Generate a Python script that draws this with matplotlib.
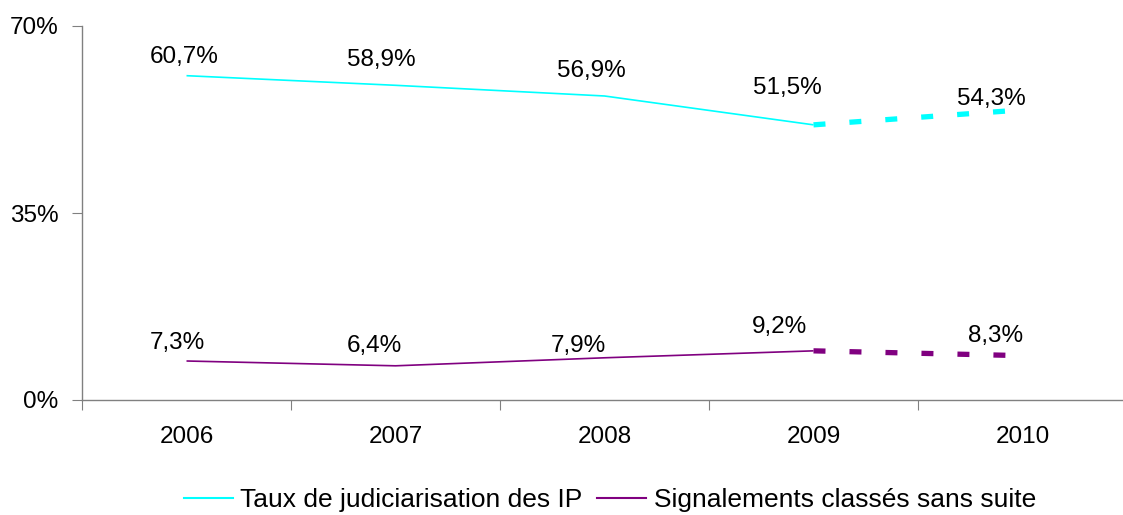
import matplotlib
matplotlib.use("Agg")
import matplotlib.pyplot as plt
from matplotlib.lines import Line2D

years = ["2006", "2007", "2008", "2009", "2010"]
taux = [60.7, 58.9, 56.9, 51.5, 54.3]
signal = [7.3, 6.4, 7.9, 9.2, 8.3]
series_names = ["Taux de judiciarisation des IP", "Signalements classés sans suite"]
yticks = [0, 35, 70]

cyan = "#00FFFF"
purple = "#800080"
# label offsets in pixels (style only)
off_taux = [(-2, 19), (-14, 25), (-13, 25), (-26, 37), (-31, 11)]
off_sig = [(-9, 18), (-21, 20), (-26, 12), (-34, 24), (-27, 20)]

plt.rcParams['font.family'] = ['Liberation Sans', 'DejaVu Sans']
FS = 17.5

fig = plt.figure(figsize=(11.23, 5.15), dpi=100)
ax = fig.add_axes([82/1123, 1-400/515, 1045/1123, 374/515])

x = list(range(len(years)))
for vals, col, offs in [(taux, cyan, off_taux), (signal, purple, off_sig)]:
    ax.plot(x[:4], vals[:4], color=col, lw=1.2, solid_capstyle='butt')
    ax.plot(x[3:], vals[3:], color=col, lw=3.8, dashes=(2.27, 4.55), dash_capstyle='butt')
    for xi, v, (dx, dy) in zip(x, vals, offs):
        ax.annotate(f"{v:.1f}%".replace('.', ','), (xi, v), xytext=(dx * 0.72, dy * 0.72),
                    textcoords='offset points', ha='center', va='center', fontsize=FS)

ax.set_xlim(-0.5, 4.5)
ax.set_ylim(0, 70)
ax.set_yticks(yticks)
ax.set_yticklabels([f"{t}%" for t in yticks], fontsize=FS)
ax.set_xticks([i + 0.5 for i in range(-1, 4)])
ax.set_xticklabels([])
ax.set_xticks(x, minor=True)
ax.set_xticklabels(years, minor=True, fontsize=FS)
ax.tick_params(axis='x', which='minor', length=0, pad=19)
ax.tick_params(axis='x', which='major', length=7, direction='out', color='#808080')
ax.tick_params(axis='y', length=7, direction='out', color='#808080', pad=10)
for s in ['top', 'right']:
    ax.spines[s].set_visible(False)
for s in ['left', 'bottom']:
    ax.spines[s].set_color('#808080')
    ax.spines[s].set_linewidth(1.0)

handles = [Line2D([], [], color=cyan, lw=1.5), Line2D([], [], color=purple, lw=1.5)]
fig.legend(handles, series_names, loc='center', bbox_to_anchor=(610/1123, 1-500/515), ncol=2,
           frameon=False, fontsize=19, handlelength=1.85, handletextpad=0.3, columnspacing=0.55)

fig.savefig("out.png", dpi=100)
